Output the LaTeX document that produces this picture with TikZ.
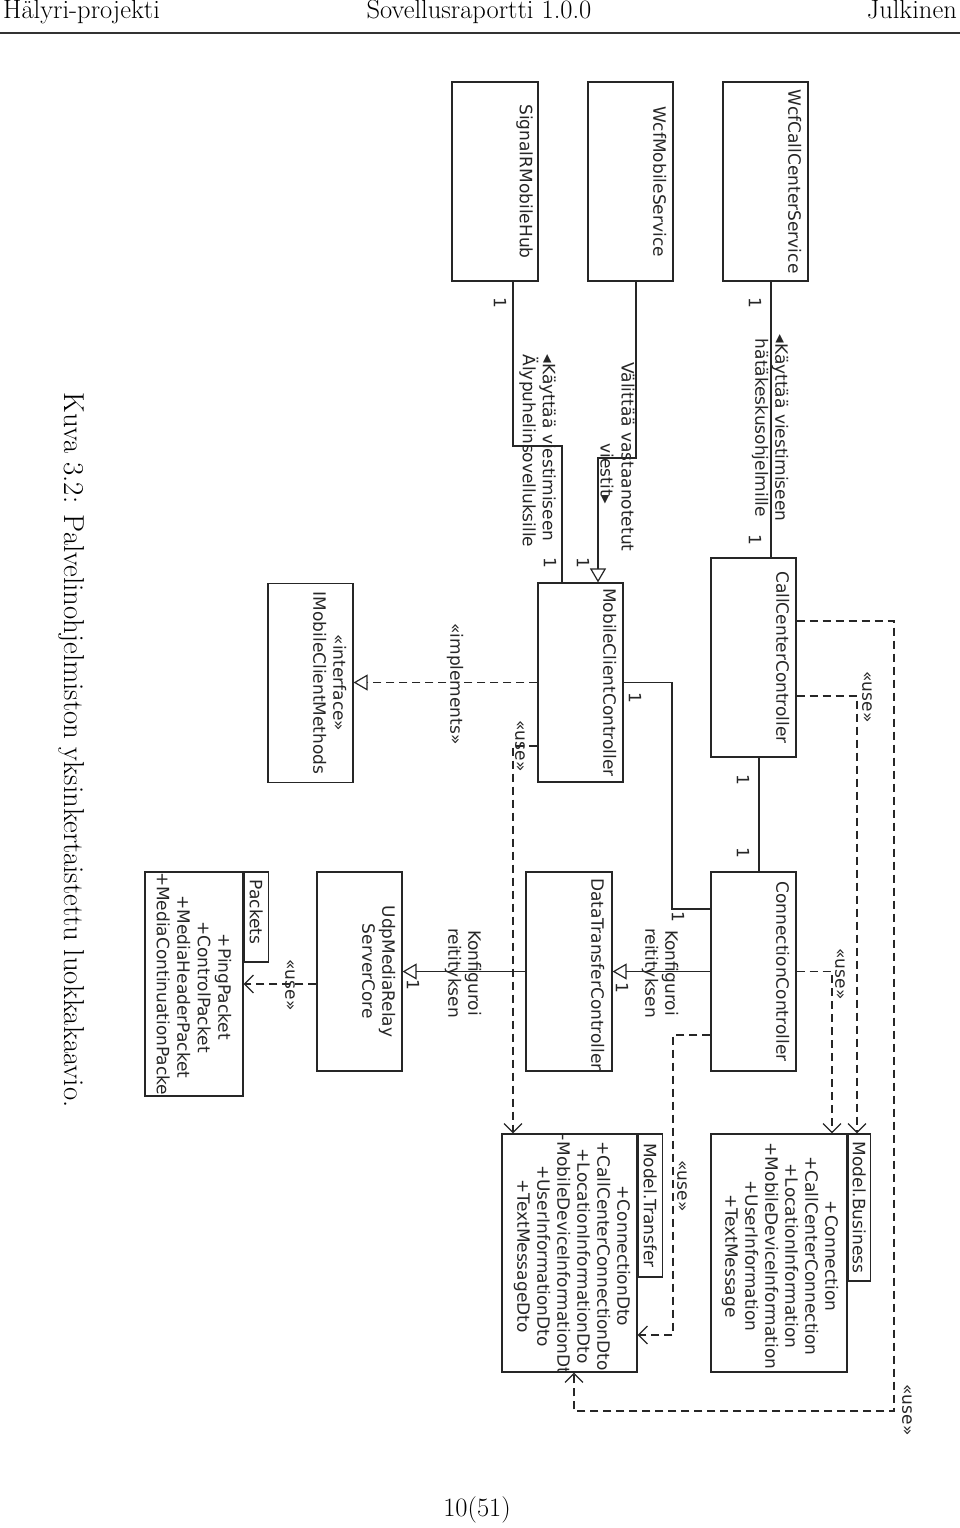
\documentclass[tikz,border=0pt]{standalone}
\usepackage{fontspec}
\newfontfamily\dv{DejaVu Sans}
\usetikzlibrary{arrows.meta}
\begin{document}
\begin{tikzpicture}[x=1pt,y=-1pt,
  cls/.style={draw=black!85, line width=1.2pt, minimum width=85pt, minimum height=199pt, inner sep=0pt},
  rot/.style={rotate=-90, font=\dv\fontsize{17}{20}\selectfont, text=black!85, inner sep=0pt},
  conn/.style={draw=black!85, line width=1.2pt},
  dep/.style={conn, dash pattern=on 8pt off 5pt, -{Straight Barb[length=9pt,width=18pt]}},
  real/.style={conn, dash pattern=on 8pt off 5pt, -{Triangle[open,length=14pt,width=16pt]}},
  assoc/.style={conn, -{Triangle[open,length=14pt,width=16pt]}},
  hdr/.style={font=\fontsize{26.5}{30}\selectfont, inner sep=0pt}
]
\fill[white] (0,0) rectangle (960,1528);
\useasboundingbox (0,0) rectangle (960,1528);

% header / footer / caption
\node[hdr, anchor=base west] (h1) at (3,19) {Hälyri-projekti};
\node[hdr, anchor=base] (h2) at (479,19) {Sovellusraportti 1.0.0};
\node[hdr, anchor=base east] (h3) at (957,19) {Julkinen};
\draw[line width=1.4pt, black!80] (0,33) -- (960,33);
\node[hdr, anchor=base] (foot) at (477,1516) {10(51)};
\node[hdr, rotate=-90, font=\fontsize{28.8}{32}\selectfont] (cap) at (72,750) {Kuva 3.2: Palvelinohjelmiston yksinkertaistettu luokkakaavio.};

% classes
\node[cls] (wcc) at (765.5,181.5) {};
\node[rot] at ([xshift=-14pt]wcc.east) {WcfCallCenterService};
\node[cls] (wms) at (630.5,181.5) {};
\node[rot] at ([xshift=-14pt]wms.east) {WcfMobileService};
\node[cls, minimum width=86pt] (srh) at (495,181.5) {};
\node[rot] at ([xshift=-14pt]srh.east) {SignalRMobileHub};

\node[cls] (ccc) at (753.5,657.5) {};
\node[rot] at ([xshift=-14pt]ccc.east) {CallCenterController};
\node[cls] (mcc) at (580.5,682.5) {};
\node[rot] at ([xshift=-14pt]mcc.east) {MobileClientController};
\node[cls] (imc) at (310.5,683) {};
\node[rot, align=center] at ([xshift=-24pt]imc.east) {«interface»\\IMobileClientMethods};

\node[cls] (coc) at (753.5,971.5) {};
\node[rot] at ([xshift=-14pt]coc.east) {ConnectionController};
\node[cls, minimum width=86pt] (dtc) at (569,971.5) {};
\begin{scope}
\clip (dtc.south west) rectangle (dtc.north east);
\node[rot] at ([xshift=-15pt,yshift=-3pt]dtc.east) {DataTransferController};
\end{scope}
\node[cls] (umr) at (359.5,971.5) {};
\node[rot, align=center] at ([xshift=-24pt]umr.east) {UdpMediaRelay\\ServerCore};

% packages
\node[cls, minimum width=98pt, minimum height=224pt] (pk) at (194,984) {};
\node[cls, minimum width=24pt, minimum height=90pt, anchor=north west] (pktab) at (pk.north east) {};
\node[rot] at ([yshift=5pt]pktab.center) {Packets};
\begin{scope}
\clip (pk.south west) rectangle (pk.north east);
\node[rot, align=center, font=\dv\fontsize{17}{20.5}\selectfont] at (194,987) {+PingPacket\\+ControlPacket\\+MediaHeaderPacket\\+MediaContinuationPacket};
\end{scope}

\node[cls, minimum width=136pt, minimum height=238pt] (mb) at (779,1253) {};
\node[cls, minimum width=22pt, minimum height=147pt, anchor=north west] (mbtab) at (mb.north east) {};
\node[rot] at (mbtab.center) {Model.Business};
\node[rot, align=center] at (780,1256) {+Connection\\+CallCenterConnection\\+LocationInformation\\+MobileDeviceInformation\\+UserInformation\\+TextMessage};

\node[cls, minimum width=135pt, minimum height=238pt] (mt) at (569.5,1253) {};
\node[cls, minimum width=24pt, minimum height=143pt, anchor=north west] (mttab) at (mt.north east) {};
\node[rot] at (mttab.center) {Model.Transfer};
\begin{scope}
\clip (mt.south west) rectangle (mt.north east);
\node[rot, align=center] at (572,1256) {+ConnectionDto\\+CallCenterConnectionDto\\+LocationInformationDto\\+MobileDeviceInformationDto\\+UserInformationDto\\+TextMessageDto};
\end{scope}

% associations
\draw[conn] (771,0 |- wcc.south) -- (771,0 |- ccc.north);
\node[rot] at (755,303) {1};
\node[rot] at (755,540) {1};
\node[rot, align=center] at (770,428) {◂Käyttää viestimiseen\\hätäkeskusohjelmille};

\draw[assoc] (636,0 |- wms.south) -- (636,458) -- (598,458) -- (598,0 |- mcc.north);
\node[rot] at (583,563) {1};
\node[rot] at (628,457) {Välittää vastaanotetut};
\node[rot] at (607,474) {viestit▸};

\draw[conn] (513,0 |- srh.south) -- (513,446) -- (562,446) -- (562,0 |- mcc.north);
\node[rot] at (500,303) {1};
\node[rot] at (550,563) {1};
\node[rot, align=left] at (537.5,451) {◂Käyttää viestimiseen\\Älypuhelinsovelluksille};

\draw[real] (mcc.west) -- (mcc.west -| imc.east);
\node[rot] at (455,684) {«implements»};

\draw[conn] (mcc.east) -- (672,0 |- mcc.east) -- (672,909) -- (coc.west |- 0,909);
\node[rot] at (635,698) {1};
\node[rot] at (678,917) {1};

\draw[conn] (759,0 |- ccc.south) -- (759,0 |- coc.north);
\node[rot] at (743,780) {1};
\node[rot] at (743,853) {1};

\draw[assoc] (coc.west) -- (dtc.east);
\node[rot] at (622,988) {1};
\node[rot, align=center] at (660,973) {Konfiguroi\\reitityksen};

\draw[assoc] (dtc.west) -- (umr.east);
\node[rot] at (413,985) {1};
\node[rot, align=center] at (463,973) {Konfiguroi\\reitityksen};

% dependencies
\draw[dep] (umr.west |- pk.east) -- (pk.east);
\node[rot] at (290,985) {«use»};

\draw[dep] (ccc.east |- 0,621) -- (894,621) -- (894,1411) -- (574,1411) -- (574,0 |- mt.south);
\node[rot] at (907,1410) {«use»};

\draw[dep] (ccc.east |- 0,696) -- (857,696) -- (857,0 |- mbtab.north);
\node[rot] at (867,697) {«use»};

\draw[dep] (coc.east) -- (832,0 |- coc.east) -- (832,0 |- mb.north);
\node[rot] at (840,974) {«use»};

\draw[dep] (coc.west |- 0,1035) -- (673,1035) -- (673,1335) -- (mt.east |- 0,1335);
\node[rot] at (682,1186) {«use»};

\draw[dep] (mcc.west |- 0,746) -- (513,746) -- (513,0 |- mt.north);
\node[rot] at (520,746) {«use»};
\end{tikzpicture}
\end{document}
